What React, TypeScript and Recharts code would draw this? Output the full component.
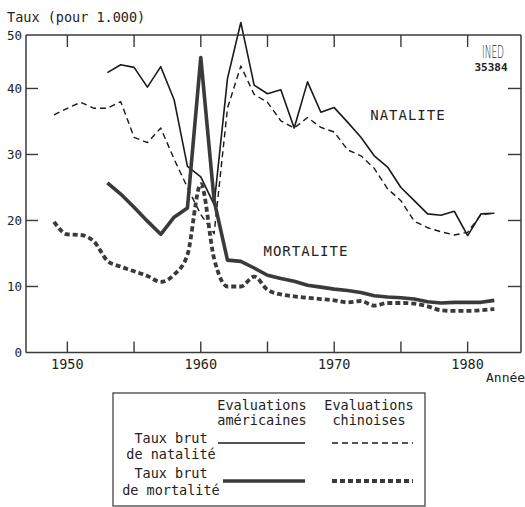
import React from 'react';
import { LineChart, Line, XAxis, YAxis, ReferenceDot } from 'recharts';

// Taux bruts, Chine (pour 1.000)
const years = [
  1949, 1950, 1951, 1952, 1953, 1954, 1955, 1956, 1957, 1958, 1959, 1960,
  1961, 1962, 1963, 1964, 1965, 1966, 1967, 1968, 1969, 1970, 1971, 1972,
  1973, 1974, 1975, 1976, 1977, 1978, 1979, 1980, 1981, 1982,
];
const natAmericaines = [
  null, null, null, null, 42.4, 43.6, 43.2, 40.2, 43.3, 38.3, 28.2, 26.6,
  22.4, 41.5, 50.0, 40.5, 39.2, 39.8, 34.0, 41.0, 36.4, 37.1, 34.9, 32.6,
  29.8, 28.1, 25.0, 23.0, 21.0, 20.8, 21.4, 17.7, 21.0, 21.1,
];
const natChinoises = [
  36.0, 37.0, 37.9, 37.0, 37.0, 38.0, 32.6, 31.8, 34.0, 29.3, 25.0, 20.9,
  18.0, 37.0, 43.4, 39.1, 37.9, 35.1, 34.0, 35.6, 34.1, 33.4, 30.7, 29.8,
  27.9, 24.8, 23.0, 19.9, 18.9, 18.3, 17.8, 18.2, 20.9, 21.1,
];
const mortAmericaines = [
  null, null, null, null, 25.7, 24.0, 22.0, 19.9, 17.9, 20.5, 21.9, 44.7,
  23.0, 14.0, 13.8, 12.8, 11.7, 11.2, 10.8, 10.2, 9.9, 9.6, 9.4, 9.1,
  8.6, 8.4, 8.3, 8.1, 7.7, 7.5, 7.6, 7.6, 7.6, 7.9,
];
const mortChinoises = [
  19.8, 17.9, 17.8, 16.8, 13.9, 13.0, 12.3, 11.6, 10.7, 11.8, 14.8, 25.5,
  14.2, 10.0, 10.0, 11.5, 9.5, 8.8, 8.5, 8.3, 8.1, 7.9, 7.6, 7.8,
  7.1, 7.5, 7.5, 7.4, 7.0, 6.4, 6.3, 6.3, 6.4, 6.6,
];

const xTicks = [1950, 1955, 1960, 1965, 1970, 1975, 1980];
const xTickLabels = ['1950', '', '1960', '', '1970', '', '1980'];
const yTicks = [0, 10, 20, 30, 40];
const yTickLabels = ['0', '10', '20', '30', '40'];
const yTopLabel = '50';
const colLabels = [
  ['Evaluations', 'américaines'],
  ['Evaluations', 'chinoises'],
];
const rowLabels = [
  ['Taux brut', 'de natalité'],
  ['Taux brut', 'de mortalité'],
];

const data = years.map((year, i) => ({
  year,
  natUS: natAmericaines[i],
  natCN: natChinoises[i],
  mortUS: mortAmericaines[i],
  mortCN: mortChinoises[i],
}));

const FONT = '"DejaVu Sans Mono", monospace';
const AXIS = '#3a3a3a';
const INK = '#222';

const series = [
  { key: 'natUS', type: 'linear', color: '#1a1a1a', width: 1.6, dash: undefined },
  { key: 'natCN', type: 'linear', color: '#1a1a1a', width: 1.4, dash: '6 4' },
  { key: 'mortUS', type: 'linear', color: '#3a3a3a', width: 3.6, dash: undefined },
  { key: 'mortCN', type: 'monotone', color: '#3a3a3a', width: 3.8, dash: '5 3' },
];

function BottomTick({ x, y, payload }: any) {
  const i = xTicks.indexOf(payload.value);
  const label = i >= 0 ? xTickLabels[i] : '';
  return (
    <g>
      <line x1={x} y1={y} x2={x} y2={y - 11} stroke={AXIS} strokeWidth={1.4} />
      {label && (
        <text x={x} y={y + 16} textAnchor="middle" fontFamily={FONT} fontSize={13.5} fill={INK}>
          {label}
        </text>
      )}
    </g>
  );
}

function TopTick({ x, y }: any) {
  return <line x1={x} y1={y} x2={x} y2={y + 12} stroke={AXIS} strokeWidth={1.4} />;
}

function LeftTick({ x, y, payload }: any) {
  const i = yTicks.indexOf(payload.value);
  return (
    <g>
      {payload.value !== 0 && (
        <line x1={x} y1={y} x2={x + 12} y2={y} stroke={AXIS} strokeWidth={1.4} />
      )}
      <text x={x - 4} y={y} dy="0.36em" textAnchor="end" fontFamily={FONT} fontSize={12.5} fill={INK}>
        {yTickLabels[i]}
      </text>
    </g>
  );
}

function RightTick({ x, y, payload }: any) {
  if (payload.value === 0) return <g />;
  return <line x1={x} y1={y} x2={x - 13} y2={y} stroke={AXIS} strokeWidth={1.4} />;
}

const curveLabel = (text: string) => (props: any) => {
  const vb = props.viewBox || {};
  return (
    <text
      x={vb.x}
      y={vb.y}
      dy="0.36em"
      textAnchor="start"
      fontFamily={FONT}
      fontSize={14}
      letterSpacing={1}
      fill={INK}
    >
      {text}
    </text>
  );
};

function LegendBox() {
  const lineX = [[[218, 305], [332, 413]], [[223, 305], [332, 413]]];
  const rowY = [443, 481];
  const rowText = [[443, 459], [478, 495]];
  return (
    <g fontFamily={FONT} fontSize={13.5} fill={INK}>
      <rect x={113} y={393} width={312} height={113} fill="none" stroke="#444" strokeWidth={1.3} />
      {colLabels.map((c, j) => (
        <g key={j}>
          <text x={j === 0 ? 262 : 369} y={410} textAnchor="middle">{c[0]}</text>
          <text x={j === 0 ? 262 : 369} y={425} textAnchor="middle">{c[1]}</text>
        </g>
      ))}
      {rowLabels.map((r, i) => (
        <g key={i}>
          <text x={171} y={rowText[i][0]} textAnchor="middle">{r[0]}</text>
          <text x={171} y={rowText[i][1]} textAnchor="middle">{r[1]}</text>
          {[0, 1].map((j) => {
            const s = series[i * 2 + j];
            return (
              <line
                key={j}
                x1={lineX[i][j][0]}
                x2={lineX[i][j][1]}
                y1={rowY[i]}
                y2={rowY[i]}
                stroke={s.color}
                strokeWidth={s.width}
                strokeDasharray={s.dash}
              />
            );
          })}
        </g>
      ))}
    </g>
  );
}

export default function App() {
  return (
    <div style={{ position: 'absolute', left: 0, top: 0, width: 525, height: 507, background: '#fff' }}>
      {/* the 1963 peak pokes above the frame in the original, so no clipping */}
      <style>{'.recharts-wrapper [clip-path]{clip-path:none !important}'}</style>
      <LineChart
        width={525}
        height={385}
        data={data}
        margin={{ top: 34, right: 3, bottom: 31.5, left: 25 }}
      >
        <XAxis
          dataKey="year"
          type="number"
          domain={[1946.9, 1984]}
          ticks={xTicks}
          interval={0}
          height={1}
          tickSize={0}
          tickMargin={0}
          tickLine={false}
          axisLine={{ stroke: AXIS, strokeWidth: 1.5 }}
          tick={<BottomTick />}
          allowDataOverflow
        />
        <XAxis
          xAxisId="top"
          orientation="top"
          dataKey="year"
          type="number"
          domain={[1946.9, 1984]}
          ticks={xTicks}
          interval={0}
          height={1}
          tickSize={0}
          tickMargin={0}
          tickLine={false}
          axisLine={{ stroke: AXIS, strokeWidth: 1.5 }}
          tick={<TopTick />}
          allowDataOverflow
        />
        <YAxis
          type="number"
          domain={[0, 48.1]}
          ticks={yTicks}
          interval={0}
          width={1}
          tickSize={0}
          tickMargin={0}
          tickLine={false}
          axisLine={{ stroke: AXIS, strokeWidth: 1.5 }}
          tick={<LeftTick />}
          allowDataOverflow
        />
        <YAxis
          yAxisId="right"
          orientation="right"
          type="number"
          domain={[0, 48.1]}
          ticks={yTicks}
          interval={0}
          width={1}
          tickSize={0}
          tickMargin={0}
          tickLine={false}
          axisLine={{ stroke: AXIS, strokeWidth: 1.5 }}
          tick={<RightTick />}
          allowDataOverflow
        />
        {series.map((s) => (
          <Line
            key={s.key}
            dataKey={s.key}
            type={s.type as any}
            stroke={s.color}
            strokeWidth={s.width}
            strokeDasharray={s.dash}
            strokeLinejoin="round"
            dot={false}
            activeDot={false}
            isAnimationActive={false}
          />
        ))}
        <ReferenceDot x={1972.7} y={36.0} r={0} fill="none" stroke="none" label={curveLabel('NATALITE')} />
        <ReferenceDot x={1964.7} y={15.4} r={0} fill="none" stroke="none" label={curveLabel('MORTALITE')} />
      </LineChart>
      <svg
        width={525}
        height={507}
        style={{ position: 'absolute', left: 0, top: 0, pointerEvents: 'none' }}
      >
        <text x={7} y={22} fontFamily={FONT} fontSize={13.5} fill={INK}>Taux (pour 1.000)</text>
        <text x={22} y={35} dy="0.36em" textAnchor="end" fontFamily={FONT} fontSize={12.5} fill={INK}>
          {yTopLabel}
        </text>
        <text x={486} y={382} fontFamily={FONT} fontSize={13} fill={INK}>Année</text>
        <text
          x={482}
          y={58}
          fontFamily='"DejaVu Sans", sans-serif'
          fontSize={17}
          fontWeight={200}
          textLength={22}
          lengthAdjust="spacingAndGlyphs"
          fill={INK}
        >
          INED
        </text>
        <text x={491} y={71} textAnchor="middle" fontFamily={FONT} fontSize={11} fontWeight="bold" fill={INK}>
          35384
        </text>
        <LegendBox />
      </svg>
    </div>
  );
}
